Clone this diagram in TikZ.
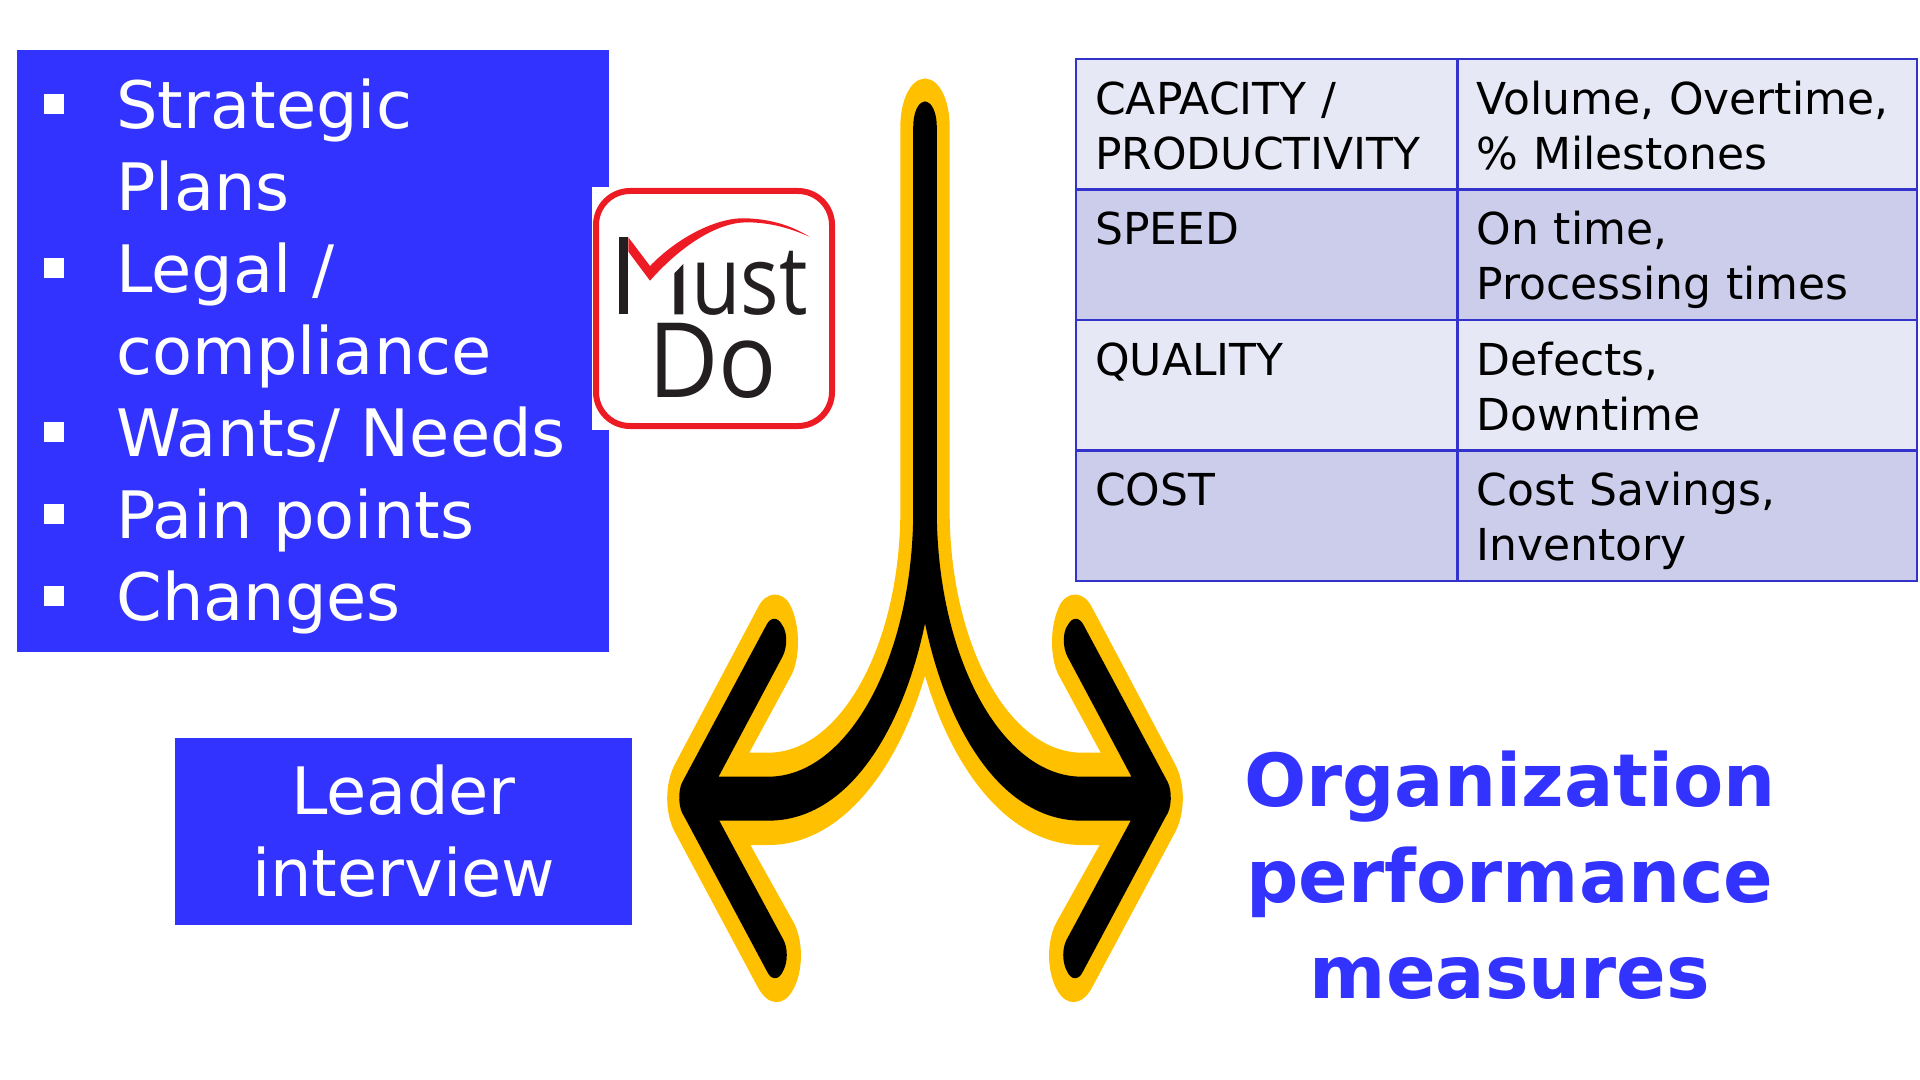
\documentclass[tikz,border=0pt]{standalone}
\usepackage{fontspec}
\setmainfont{DejaVu Sans}
\newfontfamily\ustfont[FakeStretch=0.84]{Open Sans}
\newfontfamily\dofont[FakeStretch=0.93]{Open Sans}
\usepackage{xcolor}
\usetikzlibrary{positioning}
\definecolor{MDBlue}   {HTML}{3333FF}
\definecolor{MDRule}   {HTML}{3333CC}
\definecolor{MDLight}  {HTML}{E7E8F5}
\definecolor{MDDark}   {HTML}{CBCDEB}
\definecolor{MDGold}   {HTML}{FFC000}
\definecolor{MDRed}    {HTML}{ED1C24}
\definecolor{MDInk}    {HTML}{231F20}
\newcommand{\toprow}{\rule[-8.25pt]{0pt}{33.7pt}}

\begin{document}
\begin{tikzpicture}[x=0.5pt,y=-0.5pt,
    bluebox/.style={fill=MDBlue,inner sep=0pt,text=white,align=center,font=\fontsize{32.7}{41}\selectfont},
    item/.style={anchor=north west,inner sep=0pt,text=white,align=left,font=\fontsize{32.7}{41}\selectfont},
    tick/.style={fill=white,inner sep=0pt,minimum width=10pt,minimum height=10pt},
    cell/.style={draw=MDRule,line width=1.2pt,anchor=north west,inner xsep=9.5pt,inner ysep=0pt,
      minimum height=65.2pt,align=left,font=\fontsize{22}{27.5}\selectfont},
    capcell/.style={cell,minimum width=190.7pt,text width=171.7pt},
    valcell/.style={cell,minimum width=229.7pt,text width=210.7pt},
    odd/.style={fill=MDLight},
    even/.style={fill=MDDark}
  ]
    \useasboundingbox (0,0) rectangle (1920,1080);
    % left list
    \node[bluebox,minimum width=296pt,minimum height=301pt](listbox) at (313,351) {};
    \node[tick](t1) at (54,104) {};
    \node[tick](t2) at (54,268) {};
    \node[tick](t3) at (54,432) {};
    \node[tick](t4) at (54,514) {};
    \node[tick](t5) at (54,596) {};
    \node[item](strat) at (116,78)  {Strategic\\Plans};
    \node[item](legal) at (116,242) {Legal /\\compliance};
    \node[item](wants) at (116,406) {Wants/ Needs};
    \node[item](pain)  at (116,488) {Pain points};
    \node[item](chng)  at (116,570) {Changes};
    % logo
    \node[fill=white,inner sep=0pt,minimum width=20pt,minimum height=121.5pt](logoback) at (612,308.5) {};
    \node[draw=MDRed,fill=white,line width=3pt,rounded corners=17pt,inner sep=0pt,
      minimum width=118pt,minimum height=117.5pt](logobox) at (714,308.5) {};
    \begin{scope}[shift={(570,160)},x=0.16667pt,y=-0.16667pt]
      \fill[MDInk] (148,232) rectangle (175,463);
      \fill[MDInk] (313,340) -- (340,312) -- (340,463) -- (313,463) -- cycle;
      \fill[MDRed] (175,232) -- (240,318) .. controls (330,225) and (450,170) .. (530,175)
        .. controls (610,178) and (670,200) .. (718,230)
        .. controls (650,200) and (590,187) .. (530,187)
        .. controls (440,187) and (330,260) .. (240,362) -- (175,275) -- cycle;
      \node[anchor=base west,inner sep=0pt,text=MDInk,
        font=\ustfont\fontsize{48}{48}\selectfont](ust) at (362,463) {ust};
      \node[anchor=base west,inner sep=0pt,text=MDInk,
        font=\dofont\fontsize{52}{52}\selectfont](doword) at (234,713) {Do};
    \end{scope}
    % arrow
    \begin{scope}[shift={(925,560)},x=0.17857pt,y=-0.16667pt]
      \foreach \s in {1,-1}
        \fill[MDGold,xscale=\s] (3,-1444) -- (0,-1444) .. controls (-40,-1444) and (-69,-1380) .. (-69,-1300)
          -- (-69,-150) .. controls (-69,252) and (-235,578) .. (-439,578) -- (-492,578) -- (-374,345)
          .. controls (-352,300) and (-345,200) .. (-380,130) .. controls (-400,95) and (-445,90) .. (-469,145)
          -- (-699,610) .. controls (-730,670) and (-730,765) .. (-696,825) -- (-469,1280)
          .. controls (-440,1340) and (-395,1340) .. (-370,1290) .. controls (-340,1235) and (-340,1140) .. (-369,1085)
          -- (-489,855) -- (-439,855) .. controls (-240,855) and (-80,640) .. (0,347) -- cycle;
      \foreach \s in {1,-1}
        \fill[black,xscale=\s] (3,-1375) -- (0,-1375) .. controls (-20,-1375) and (-33,-1340) .. (-33,-1300)
          -- (-33,-150) .. controls (-33,292) and (-215,650) .. (-439,650) -- (-578,650) -- (-399,290)
          .. controls (-385,262) and (-385,215) .. (-400,195) .. controls (-412,170) and (-432,170) .. (-444,195)
          -- (-679,665) .. controls (-692,690) and (-692,745) .. (-674,770) -- (-442,1235)
          .. controls (-430,1262) and (-408,1262) .. (-396,1230) .. controls (-384,1205) and (-384,1165) .. (-396,1140)
          -- (-576,782) -- (-439,782) .. controls (-210,782) and (-60,500) .. (0,190) -- cycle;
    \end{scope}
    % leader box and measures
    \node[bluebox,minimum width=228.5pt,minimum height=93.5pt](leader) at (403.5,831.5) {Leader\\interview};
    \node[text=MDBlue,align=center,inner sep=0pt,font=\bfseries\fontsize{36.6}{48}\selectfont](measures) at (1510,875)
      {Organization\\performance\\measures};
    % table
    \node[capcell,odd](c1)  at (1075,58)    {\toprow CAPACITY /\\\strut PRODUCTIVITY};
    \node[valcell,odd](v1)  at (1456.5,58)  {\toprow Volume, Overtime,\\\strut\% Milestones};
    \node[capcell,even](c2) at (1075,188.5) {\toprow SPEED\\\strut};
    \node[valcell,even](v2) at (1456.5,188.5) {\toprow On time,\\\strut Processing times};
    \node[capcell,odd](c3)  at (1075,319)   {\toprow QUALITY\\\strut};
    \node[valcell,odd](v3)  at (1456.5,319) {\toprow Defects,\\\strut Downtime};
    \node[capcell,even](c4) at (1075,449.5) {\toprow COST\\\strut};
    \node[valcell,even](v4) at (1456.5,449.5) {\toprow Cost Savings,\\\strut Inventory};
  \end{tikzpicture}
\end{document}
